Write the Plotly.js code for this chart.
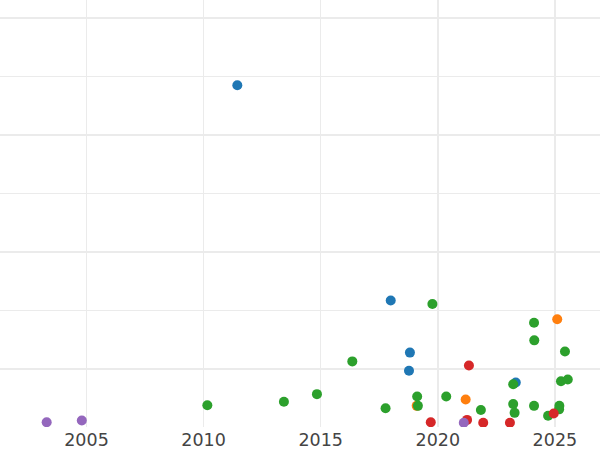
<!DOCTYPE html>
<html>
<head>
<meta charset="utf-8">
<script src="https://cdn.plot.ly/plotly-3.0.1.min.js"></script>
<style>html,body{margin:0;padding:0;background:#fff;}#chart{width:600px;height:450px;}</style>
</head>
<body>
<div id="chart"></div>
<script>
// Series values (x = year, y = value in gridline units)
const blueX   = [2011.44, 2017.99, 2018.81, 2018.77, 2023.33];
const blueY   = [5.85, 2.17, 1.28, 0.97, 0.77];

const orangeX = [2025.10, 2021.19, 2019.10];
const orangeY = [1.85, 0.48, 0.37];

const greenX  = [2010.16, 2013.43, 2014.84, 2016.35, 2017.77, 2019.77, 2019.12, 2019.15,
                 2020.36, 2021.84, 2024.11, 2024.12, 2025.43, 2025.26, 2025.55, 2023.22,
                 2023.22, 2023.28, 2024.11, 2025.19, 2025.18, 2024.71];
const greenY  = [0.38, 0.44, 0.57, 1.13, 0.33, 2.11, 0.53, 0.37,
                 0.53, 0.30, 1.79, 1.49, 1.30, 0.79, 0.82, 0.74,
                 0.40, 0.25, 0.37, 0.37, 0.31, 0.20];

const redX    = [2021.33, 2019.70, 2021.25, 2021.94, 2023.08, 2024.95];
const redY    = [1.06, 0.09, 0.13, 0.08, 0.08, 0.24];

const purpleX = [2003.30, 2004.80, 2021.11];
const purpleY = [0.09, 0.12, 0.08];

const xTickVals  = [2005, 2010, 2015, 2020, 2025];
const xTickText  = ['2005', '2010', '2015', '2020', '2025'];

function series(x, y, color, name) {
  return {x: x, y: y, type: 'scatter', mode: 'markers', name: name,
          marker: {color: color, size: 10}, showlegend: false};
}

const data = [
  series(blueX, blueY, '#1f77b4', 'A'),
  series(orangeX, orangeY, '#ff7f0e', 'B'),
  series(greenX, greenY, '#2ca02c', 'C'),
  series(redX, redY, '#d62728', 'D'),
  series(purpleX, purpleY, '#9467bd', 'E')
];

const layout = {
  width: 600, height: 450,
  margin: {l: 0, r: 0, t: 0, b: 23, pad: 0},
  paper_bgcolor: '#ffffff', plot_bgcolor: '#ffffff',
  font: {family: 'DejaVu Sans', color: '#444444', size: 17.5},
  showlegend: false,
  xaxis: {
    range: [2001.307, 2026.926],
    tickmode: 'array', tickvals: xTickVals, ticktext: xTickText,
    showgrid: true, gridcolor: '#ebebeb', gridwidth: 1.5,
    zeroline: false, showline: false, ticks: '',
    tickfont: {family: 'DejaVu Sans', size: 17.5, color: '#444444'}
  },
  yaxis: {
    range: [0.0085, 7.308],
    tick0: 0, dtick: 1,
    showgrid: true, gridcolor: '#ebebeb', gridwidth: 1.5,
    zeroline: false, showline: false, ticks: '',
    showticklabels: false
  }
};

Plotly.newPlot('chart', data, layout, {displayModeBar: false, staticPlot: true});
</script>
</body>
</html>
